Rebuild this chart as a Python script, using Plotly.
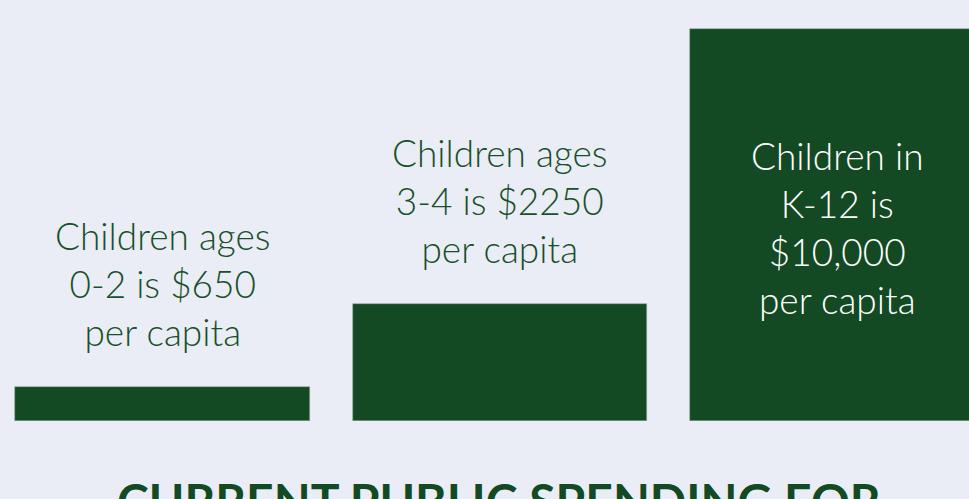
import plotly.graph_objects as go

categories = ["Children ages 0-2", "Children ages 3-4", "Children in K-12"]
# bar heights as drawn in the picture (tallest = $10,000)
bar_values = [870, 2980, 10000]
labels = [
    "Children ages<br>0-2 is $650<br>per capita",
    "Children ages<br>3-4 is $2250<br>per capita",
    "Children in<br>K-12 is<br>$10,000<br>per capita",
]
label_inside = [False, False, True]
title_text = "CURRENT PUBLIC SPENDING FOR"

BG = "#eaedf5"
GREEN = "#134a23"
TEXT_GREEN = "#185029"

fig = go.Figure()
fig.add_trace(go.Bar(
    x=list(range(len(categories))),
    y=bar_values,
    width=0.873,
    marker=dict(color=GREEN, line=dict(color="rgba(150,170,155,0.9)", width=0.6)),
    hoverinfo="skip",
    showlegend=False,
))

for i, (v, t, inside) in enumerate(zip(bar_values, labels, label_inside)):
    if inside:
        fig.add_annotation(x=i, y=v / 2, text=t, showarrow=False,
                           xanchor="center", yanchor="middle", yshift=-2,
                           font=dict(family="Lato", size=37, weight=300, color="white"))
    else:
        fig.add_annotation(x=i, y=v, text=t, showarrow=False,
                           xanchor="center", yanchor="bottom", yshift=31,
                           font=dict(family="Lato", size=37, weight=300, color=TEXT_GREEN))

fig.add_annotation(xref="paper", yref="paper", x=0.515, y=0, yshift=-49,
                   text="<b>" + title_text + "</b>", showarrow=False,
                   xanchor="center", yanchor="top",
                   font=dict(family="Lato", size=48, weight=900, color=GREEN))

fig.update_layout(
    width=969, height=499,
    margin=dict(l=0, r=0, t=0, b=78),
    paper_bgcolor=BG, plot_bgcolor=BG,
    xaxis=dict(range=[-0.482, 2.391], visible=False, fixedrange=True),
    yaxis=dict(range=[0, 10748], visible=False, fixedrange=True),
    bargap=0,
)

fig.write_html(
    "out.html",
    config={"displayModeBar": False},
    post_script="document.body.style.margin='0';document.body.style.background='%s';" % BG,
)
